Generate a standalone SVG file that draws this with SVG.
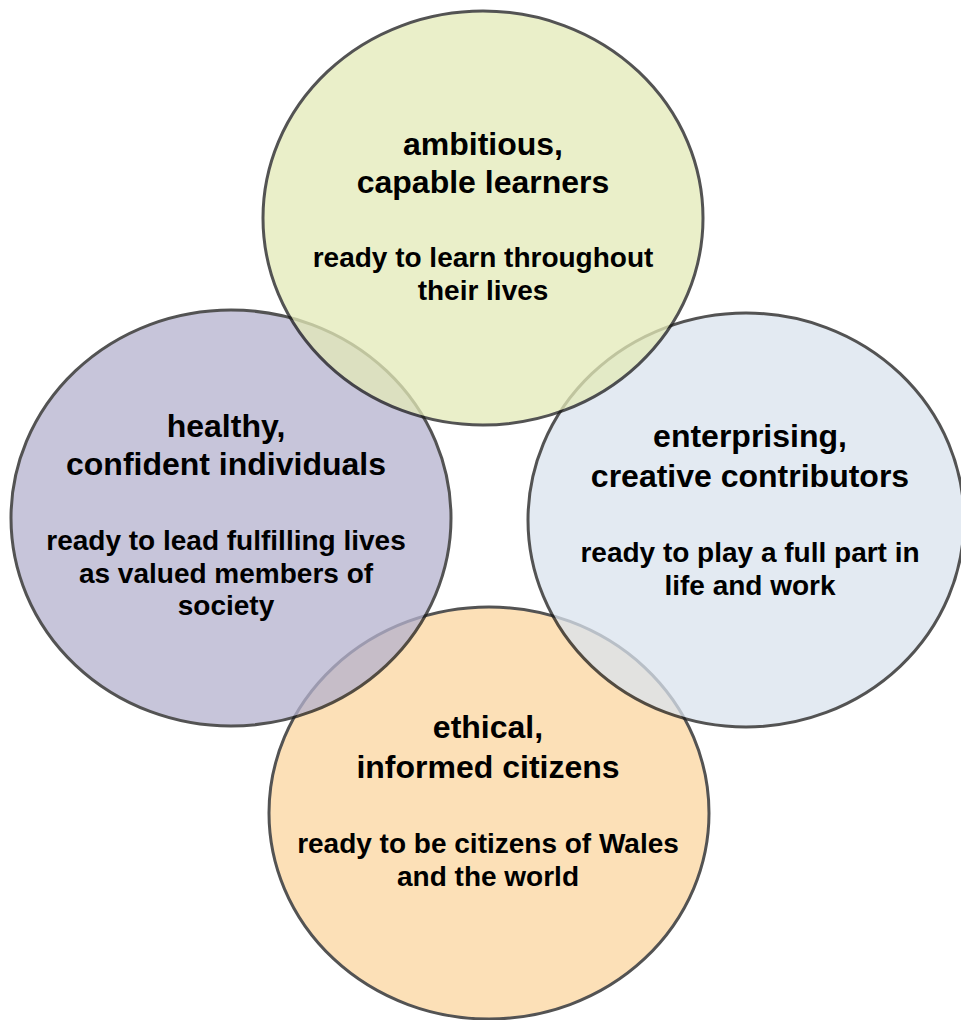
<svg xmlns="http://www.w3.org/2000/svg" width="961" height="1020" viewBox="0 0 961 1020">
<style>
.c{stroke:#1a1a1a;stroke-width:3;opacity:0.75}
.t{font-family:"Liberation Sans",Arial,sans-serif;font-weight:bold;font-size:32px;fill:#000;text-anchor:middle}
.s{font-family:"Liberation Sans",Arial,sans-serif;font-weight:bold;font-size:28px;fill:#000;text-anchor:middle}
</style>
<rect width="961" height="1020" fill="#fff"/>
<g id="connectors"/>
<g id="ethical">
<ellipse class="c" cx="489" cy="813" rx="220" ry="206" fill="#FCD6A0"/>
<text class="t" x="488" y="738">ethical,</text>
<text class="t" x="488" y="778">informed citizens</text>
<text class="s" x="488" y="853">ready to be citizens of Wales</text>
<text class="s" x="488" y="886">and the world</text>
</g>
<g id="healthy">
<ellipse class="c" cx="231" cy="518" rx="220" ry="208" fill="#B5B2CE"/>
<text class="t" x="226" y="437">healthy,</text>
<text class="t" x="226" y="475">confident individuals</text>
<text class="s" x="226" y="550">ready to lead fulfilling lives</text>
<text class="s" x="226" y="583">as valued members of</text>
<text class="s" x="226" y="615">society</text>
</g>
<g id="enterprising">
<ellipse class="c" cx="746" cy="520" rx="218" ry="207" fill="#DAE3EE"/>
<text class="t" x="750" y="447">enterprising,</text>
<text class="t" x="750" y="487">creative contributors</text>
<text class="s" x="750" y="562">ready to play a full part in</text>
<text class="s" x="750" y="595">life and work</text>
</g>
<g id="ambitious">
<ellipse class="c" cx="483" cy="218" rx="220" ry="207" fill="#E4EAB8"/>
<text class="t" x="483" y="155">ambitious,</text>
<text class="t" x="483" y="193">capable learners</text>
<text class="s" x="483" y="267">ready to learn throughout</text>
<text class="s" x="483" y="300">their lives</text>
</g>
</svg>
